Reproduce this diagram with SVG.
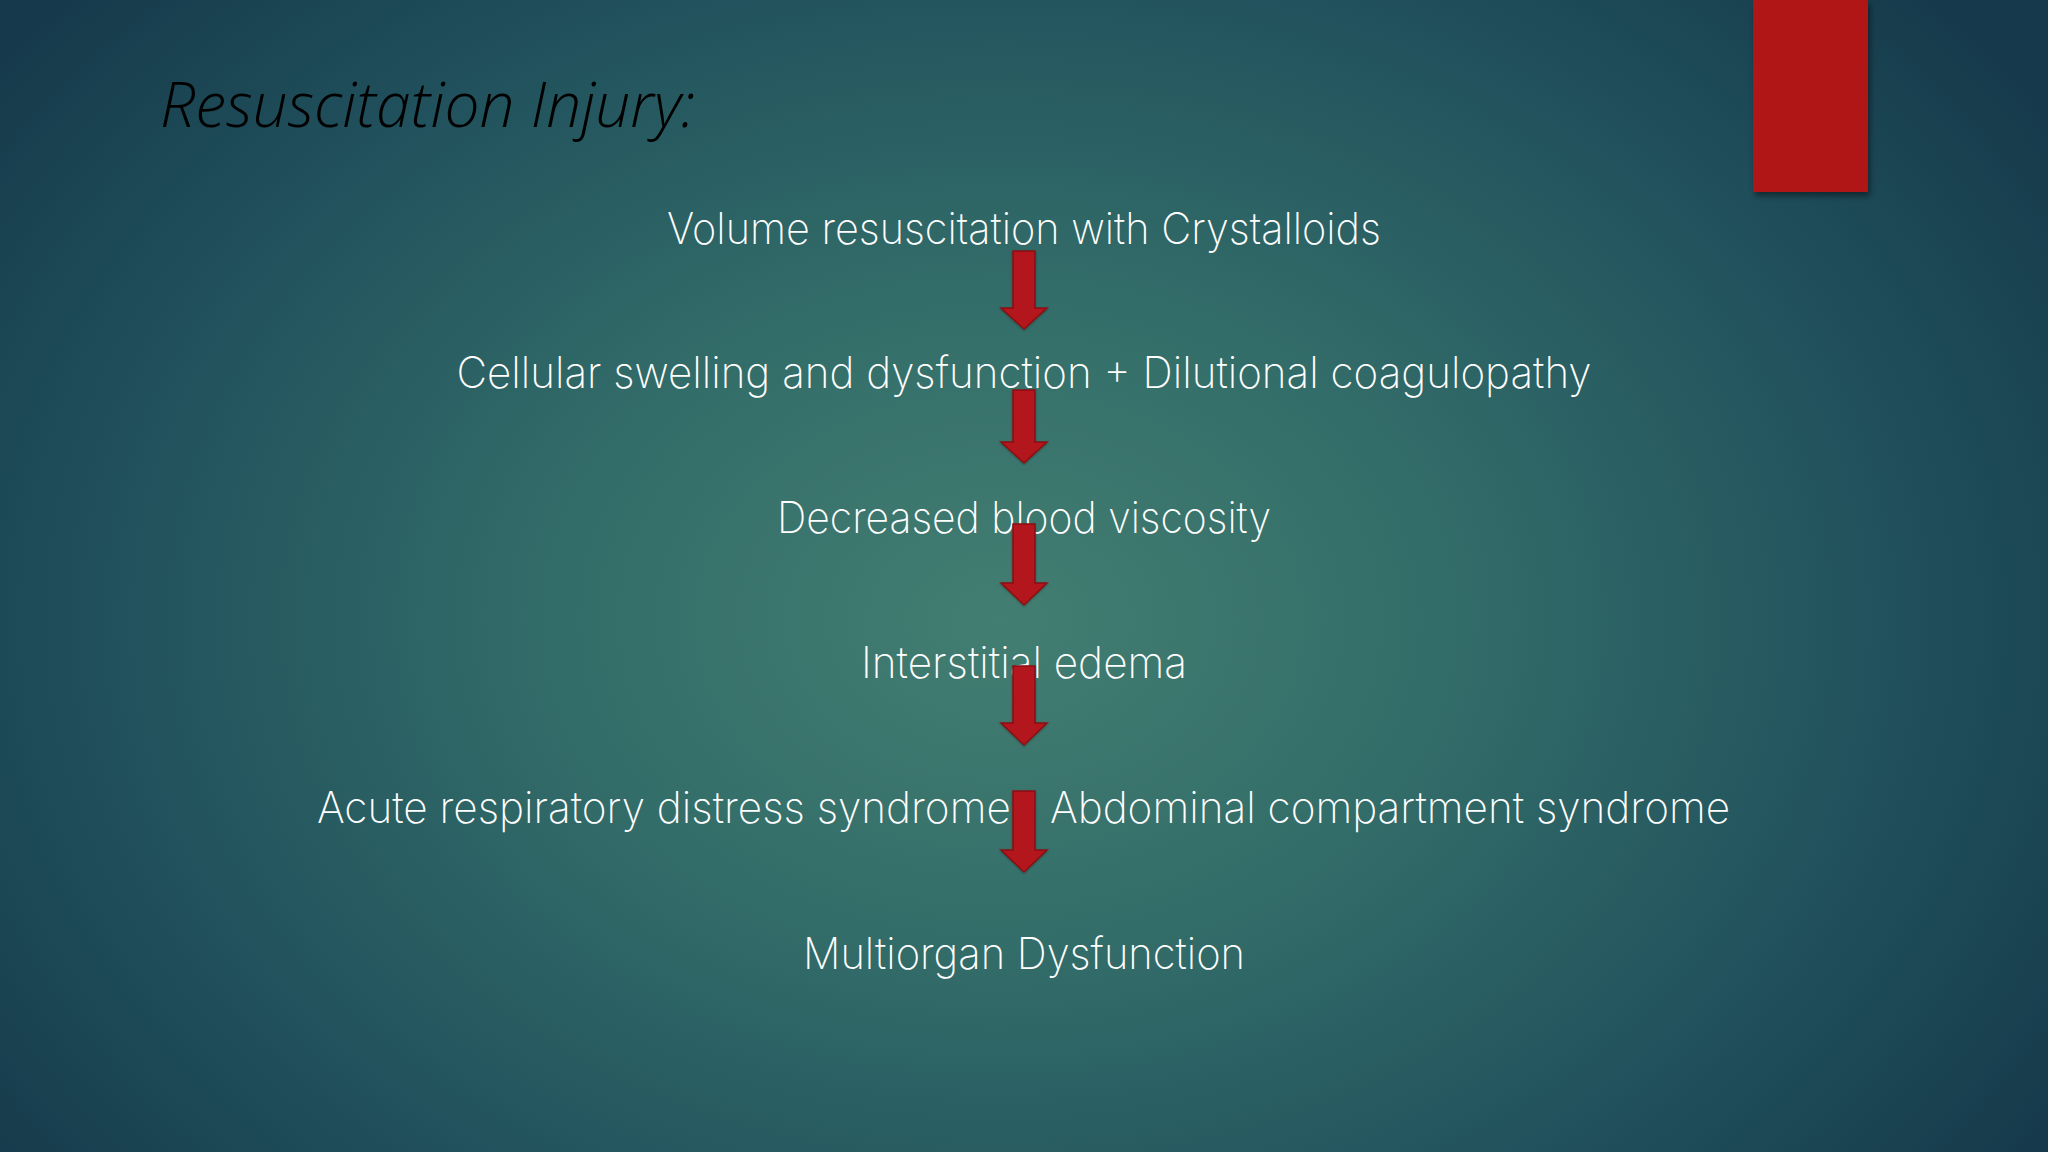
<svg xmlns="http://www.w3.org/2000/svg" width="2048" height="1152" viewBox="0 0 2048 1152">
  <defs>
    <radialGradient id="bg" gradientUnits="userSpaceOnUse" cx="1000" cy="620" r="1250" gradientTransform="translate(1000 620) scale(1 0.75) translate(-1000 -620)">
      <stop offset="0" stop-color="#437e72"/>
      <stop offset="0.35" stop-color="#336d69"/>
      <stop offset="0.7" stop-color="#21525d"/>
      <stop offset="1" stop-color="#163a4b"/>
    </radialGradient>
    <filter id="shadow" x="-20%" y="-20%" width="140%" height="140%">
      <feDropShadow dx="2" dy="4" stdDeviation="3" flood-color="#000" flood-opacity="0.45"/>
    </filter>
    <filter id="ashadow" x="-30%" y="-30%" width="160%" height="160%">
      <feDropShadow dx="0" dy="1" stdDeviation="1" flood-color="#000" flood-opacity="0.3"/>
    </filter>
  </defs>
  <style>
    .lbl { font-family: "Inter", "Open Sans", "Liberation Sans", sans-serif; font-weight: 200; font-size: 44px; fill: #ffffff; text-anchor: middle; }
    .title { font-family: "Open Sans", "Noto Sans", "Liberation Sans", sans-serif; font-weight: 300; font-style: italic; font-size: 62px; fill: #000000; }
    .arrow { fill: #b3161a; stroke: #8c0f12; stroke-width: 1.5; stroke-linejoin: miter; filter: url(#ashadow); }
  </style>
  <rect x="0" y="0" width="2048" height="1152" fill="url(#bg)"/>
  <rect id="accent" x="1753" y="0" width="115" height="192" fill="#b01818" filter="url(#shadow)"/>
  <text class="title" x="160" y="127" textLength="535" lengthAdjust="spacingAndGlyphs">Resuscitation Injury:</text>

  <g id="node1"><text class="lbl" x="1024" y="244" textLength="714" lengthAdjust="spacingAndGlyphs">Volume resuscitation with Crystalloids</text></g>
  <g id="node2"><text class="lbl" x="1024" y="388" textLength="1135" lengthAdjust="spacingAndGlyphs">Cellular swelling and dysfunction + Dilutional coagulopathy</text></g>
  <g id="node3"><text class="lbl" x="1024" y="533" textLength="494" lengthAdjust="spacingAndGlyphs">Decreased blood viscosity</text></g>
  <g id="node4"><text class="lbl" x="1024" y="678" textLength="326" lengthAdjust="spacingAndGlyphs">Interstitial edema</text></g>
  <g id="node5"><text class="lbl" x="1023.5" y="823" textLength="1413" lengthAdjust="spacingAndGlyphs">Acute respiratory distress syndrome+ Abdominal compartment syndrome</text></g>
  <g id="node6"><text class="lbl" x="1024" y="969" textLength="442" lengthAdjust="spacingAndGlyphs">Multiorgan Dysfunction</text></g>

  <g id="connectors">
    <path class="arrow" d="M1013 251 H1035 V308 H1047 L1024 329 L1001 308 H1013 Z"/>
    <path class="arrow" d="M1013 390 H1035 V442 H1047 L1024 463 L1001 442 H1013 Z"/>
    <path class="arrow" d="M1013 524 H1035 V583 H1047 L1024 605 L1001 583 H1013 Z"/>
    <path class="arrow" d="M1013 666 H1035 V723 H1047 L1024 745 L1001 723 H1013 Z"/>
    <path class="arrow" d="M1013 791 H1035 V850 H1047 L1024 872 L1001 850 H1013 Z"/>
  </g>
</svg>
